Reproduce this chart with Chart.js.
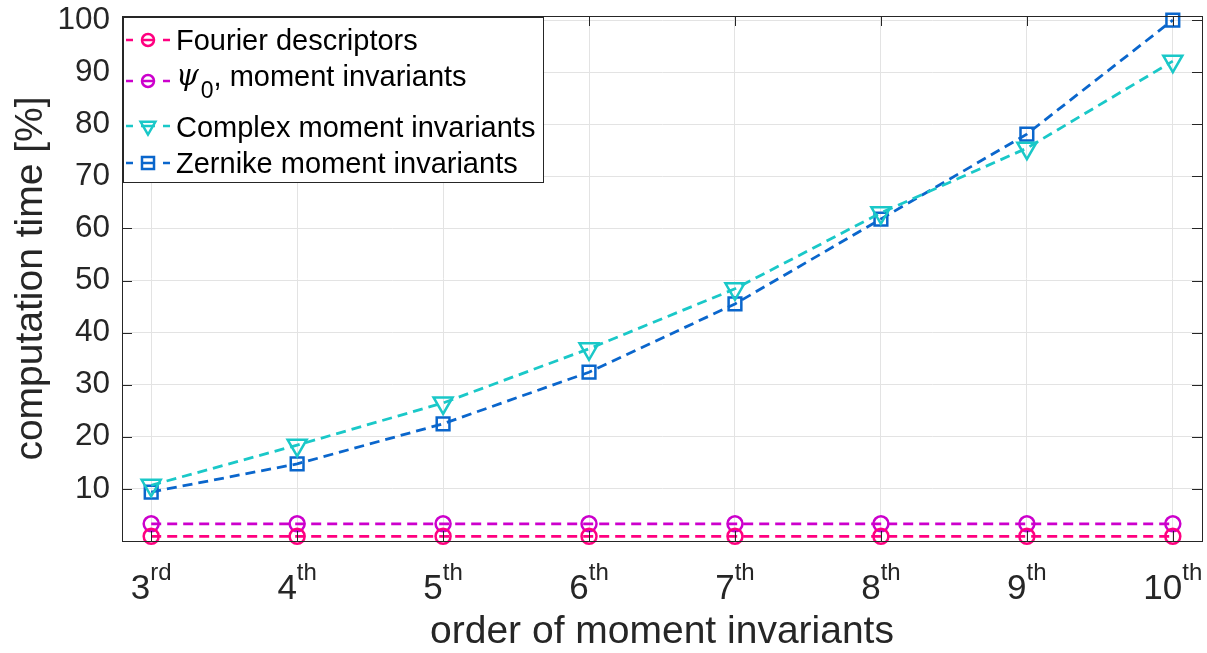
<!DOCTYPE html>
<html>
<head>
<meta charset="utf-8">
<script src="https://cdn.jsdelivr.net/npm/chart.js@4"></script>
<style>
	body {margin: 0; background: #ffffff;}
	canvas {display: block;}
</style>
</head>
<body>
<canvas id="chart" width="1207" height="653"></canvas>
<script>
// orders of the moment invariants (x axis)
const orders = [3, 4, 5, 6, 7, 8, 9, 10];
const orderSuffix = ["rd", "th", "th", "th", "th", "th", "th", "th"];

// computation time [%]
const fourierValues = [0.9, 0.9, 0.9, 0.9, 0.9, 0.9, 0.9, 0.9];
const psiValues = [3.3, 3.3, 3.3, 3.3, 3.3, 3.3, 3.3, 3.3];
const complexValues = [10.7, 18.4, 26.5, 36.9, 48.4, 63.0, 75.4, 92.1];
const zernikeValues = [9.4, 14.8, 22.5, 32.4, 45.5, 61.8, 78.1, 100.0];

const yTicks = [0, 10, 20, 30, 40, 50, 60, 70, 80, 90, 100];

const axisColor = "#262626";
const sans = "'Liberation Sans', Arial, sans-serif";

function points(values) {
	return values.map((v, i) => ({"x": orders[i], "y": v}));
}

function series(label, values, color, style, radius) {
	return {
		"label": label,
		"data": points(values),
		"borderColor": color,
		"borderWidth": 2.8,
		"borderDash": [10, 6],
		"pointStyle": style,
		"pointRadius": radius,
		"pointRotation": style == "triangle" ? 180 : 0,
		"pointBorderColor": color,
		"pointBackgroundColor": "rgba(0,0,0,0)",
		"pointBorderWidth": 2.5,
		"fill": false,
		"tension": 0,
		"clip": false,
	};
}

const datasets = [
	series("Fourier descriptors", fourierValues, "#ff0080", "circle", 7.5),
	series("ψ0, moment invariants", psiValues, "#cc00cc", "circle", 7.5),
	series("Complex moment invariants", complexValues, "#1ac8c8", "triangle", 11),
	series("Zernike moment invariants", zernikeValues, "#0a66cc", "rect", 9),
];

const matlabAxes = {
	"id": "matlabAxes",
	afterDraw(chart) {
		const ctx = chart.ctx;
		const area = chart.chartArea;
		const xs = chart.scales.x;
		const ys = chart.scales.y;

		ctx.save();
		// inner ticks on all sides
		ctx.strokeStyle = axisColor;
		ctx.lineWidth = 1;
		ctx.beginPath();
		for (const o of orders) {
			const px = Math.round(xs.getPixelForValue(o)) + 0.5;
			ctx.moveTo(px, area.bottom); ctx.lineTo(px, area.bottom - 10);
			ctx.moveTo(px, area.top); ctx.lineTo(px, area.top + 10);
		}
		for (let v = 10; v <= 100; v += 10) {
			const py = Math.round(ys.getPixelForValue(v)) + 0.5;
			ctx.moveTo(area.left, py); ctx.lineTo(area.left + 10, py);
			ctx.moveTo(area.right, py); ctx.lineTo(area.right - 10, py);
		}
		ctx.stroke();
		// box
		ctx.strokeRect(Math.round(area.left) + 0.5, Math.round(area.top) + 0.5, Math.round(area.right - area.left), Math.round(area.bottom - area.top));

		// x tick labels with superscripts
		ctx.fillStyle = axisColor;
		ctx.textBaseline = "alphabetic";
		ctx.textAlign = "left";
		orders.forEach((o, i) => {
			const base = String(o);
			const sup = orderSuffix[i];
			ctx.font = "35px " + sans;
			const wb = ctx.measureText(base).width;
			ctx.font = "24px " + sans;
			const ws = ctx.measureText(sup).width;
			const x0 = xs.getPixelForValue(o) - (wb + ws) / 2;
			ctx.font = "35px " + sans;
			ctx.fillText(base, x0, 599);
			ctx.font = "24px " + sans;
			ctx.fillText(sup, x0 + wb, 580);
		});

		// legend
		const lx = 123, ly = 17, lw = 420, lh = 165;
		ctx.fillStyle = "#ffffff";
		ctx.fillRect(lx, ly, lw, lh);
		ctx.strokeStyle = axisColor;
		ctx.lineWidth = 1;
		ctx.strokeRect(lx + 0.5, ly + 0.5, lw, lh);
		const markRows = [40, 81, 126, 163];
		const textRows = [50, 86, 137, 173];
		datasets.forEach((ds, i) => {
			const cy = markRows[i];
			ctx.strokeStyle = ds.borderColor;
			ctx.lineWidth = 2.5;
			ctx.setLineDash([7, 8, 14, 8, 7, 100]);
			ctx.beginPath();
			ctx.moveTo(126, cy); ctx.lineTo(170, cy);
			ctx.stroke();
			ctx.setLineDash([]);
			ctx.fillStyle = "rgba(0,0,0,0)";
			Chart.helpers.drawPoint(ctx, {
				"pointStyle": ds.pointStyle,
				"rotation": ds.pointRotation,
				"radius": ds.pointStyle == "circle" ? 6 : 8.5,
				"borderWidth": 2.5,
			}, 148, cy);
			ctx.fillStyle = "#000000";
			ctx.textBaseline = "alphabetic";
			const by = textRows[i];
			if (i == 1) {
				ctx.font = "italic 29px 'DejaVu Serif', 'Liberation Serif', serif";
				ctx.fillText("ψ", 176, by - 1);
				const wpsi = ctx.measureText("ψ").width;
				ctx.font = "23px " + sans;
				ctx.fillText("0", 176 + wpsi + 2, by + 12);
				const w0 = ctx.measureText("0").width;
				ctx.font = "29px " + sans;
				ctx.fillText(", moment invariants", 176 + wpsi + w0 + 2, by);
			} else {
				ctx.font = "29px " + sans;
				ctx.fillText(ds.label, 176, by);
			}
		});
		ctx.restore();
	},
};

Chart.defaults.font.family = sans;
Chart.defaults.color = axisColor;

new Chart(document.getElementById("chart"), {
	"type": "line",
	"data": {"datasets": datasets},
	"options": {
		"responsive": false,
		"animation": false,
		"devicePixelRatio": 1,
		"layout": {"autoPadding": false, "padding": {"top": 16, "right": 5, "left": 0, "bottom": 0}},
		"plugins": {
			"legend": {"display": false},
			"tooltip": {"enabled": false},
		},
		"scales": {
			"x": {
				"type": "linear",
				"min": 2.8,
				"max": 10.2,
				"afterBuildTicks": (scale) => {scale.ticks = orders.map((o) => ({"value": o}));},
				"afterFit": (scale) => {
					scale.height = 112;
					scale.paddingLeft = 0;
					scale.paddingRight = 0;
				},
				"ticks": {"display": false},
				"grid": {"color": "#e3e3e3", "drawTicks": false},
				"border": {"color": axisColor},
				"title": {
					"display": true,
					"text": "order of moment invariants",
					"font": {"size": 39, "lineHeight": 1},
					"color": axisColor,
					"padding": {"top": 0, "bottom": 1},
				},
			},
			"y": {
				"min": 0,
				"max": 100.77,
				"afterBuildTicks": (scale) => {scale.ticks = yTicks.map((v) => ({"value": v}));},
				"afterFit": (scale) => {
					scale.width = 122;
					scale.paddingTop = 0;
					scale.paddingBottom = 0;
				},
				"ticks": {
					"font": {"size": 31.5},
					"color": axisColor,
					"padding": 12,
					"callback": (v) => v == 0 ? "" : String(v),
				},
				"grid": {"color": "#e3e3e3", "drawTicks": false},
				"border": {"color": axisColor},
				"title": {
					"display": true,
					"text": "computation time [%]",
					"font": {"size": 39, "lineHeight": 1},
					"color": axisColor,
					"padding": {"top": 12, "bottom": 0},
				},
			},
		},
	},
	"plugins": [matlabAxes],
});
</script>
</body>
</html>
